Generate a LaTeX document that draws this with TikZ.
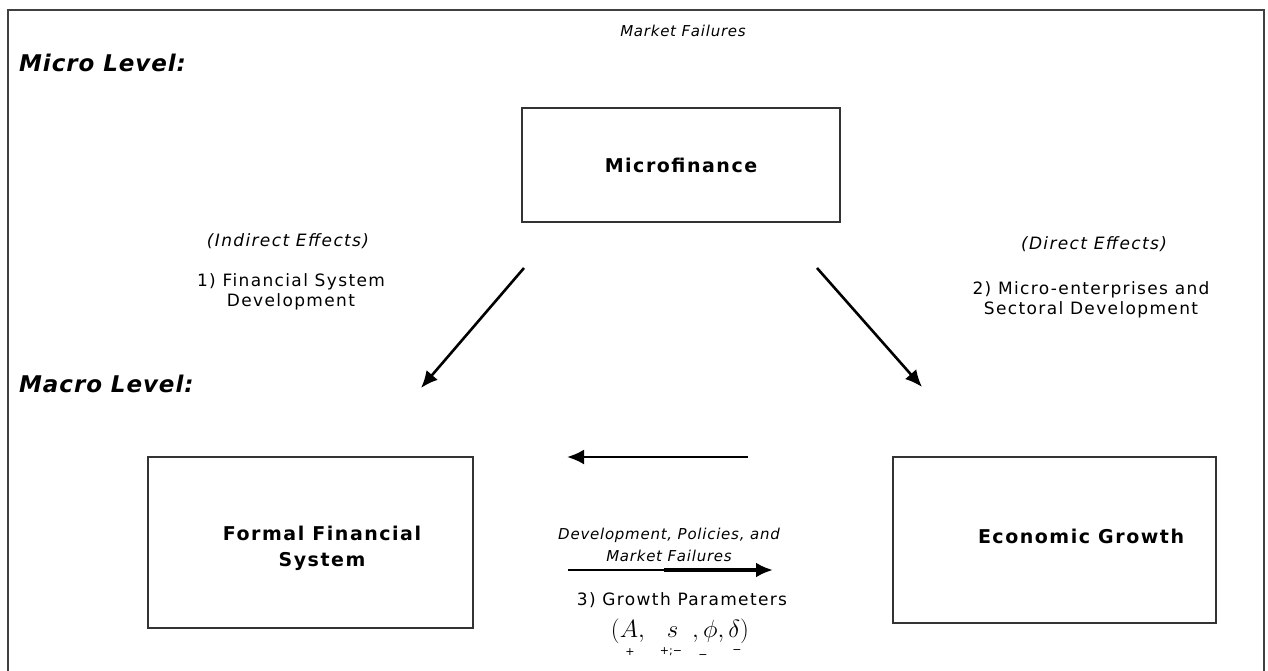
\documentclass[tikz,border=0pt]{standalone}
\usepackage{fontspec}
\setmainfont{DejaVu Sans}
\usetikzlibrary{arrows.meta}
\begin{document}
\begin{tikzpicture}[x=1pt,y=-1pt,
  frame/.style={draw=black!80,line width=1.8pt},
  txt/.style={font=\fontsize{17}{20.5}\selectfont\addfontfeature{LetterSpace=8},align=center,inner sep=0pt},
  itxt/.style={font=\fontsize{17}{21}\selectfont\itshape\addfontfeature{LetterSpace=8},align=center,inner sep=0pt},
  mtxt/.style={font=\fontsize{15}{22}\selectfont\itshape\addfontfeature{LetterSpace=5},align=center,inner sep=0pt},
  lvl/.style={font=\fontsize{23}{26}\selectfont\bfseries\itshape\addfontfeature{LetterSpace=4},anchor=west,inner sep=0pt},
  title/.style={font=\fontsize{19}{26}\selectfont\bfseries\addfontfeature{LetterSpace=8},align=center,inner sep=0pt},
  sign/.style={inner sep=0pt,font=\fontsize{11}{11}\selectfont},
  arr/.style={line width=2.6pt,-{Latex[length=17pt,width=15pt]}}]
\useasboundingbox (0,0) rectangle (1268,671);
% outer frame, open at the bottom
\draw[black!75,line width=2.4pt] (8,671) -- (8,10) -- (1264,10) -- (1264,671);

% level labels
\node[lvl] (micro) at (19,63) {Micro Level:};
\node[lvl] (macro) at (19,384) {Macro Level:};
\node[mtxt] (mf) at (683,31) {Market Failures};

% boxes
\draw[frame] (522,108) rectangle (840,222);
\node[title] (micfin) at (681,165) {Microfinance};
\draw[frame] (148,457) rectangle (473,628);
\node[title] (ffs) at (322,548) {Formal Financial\\System};
\draw[frame] (893,457) rectangle (1216,623);
\node[title] (eg) at (1081,536) {Economic Growth};

% effect labels
\node[itxt] (ind) at (288,241) {(Indirect Effects)};
\node[txt] (fsd) at (291,292) {1) Financial System\\Development};
\node[itxt] (dir) at (1094,244) {(Direct Effects)};
\node[txt] (msd) at (1091,300) {2) Micro-enterprises and\\Sectoral Development};

% arrows between levels
\coordinate (a1s) at (524,268); \coordinate (a1e) at (421,388);
\coordinate (a2s) at (817,268); \coordinate (a2e) at (922,387);
\draw[arr] (a1s) -- (a1e);
\draw[arr] (a2s) -- (a2e);

% feedback arrows at macro level
\coordinate (b1s) at (748,457); \coordinate (b1e) at (567,457);
\coordinate (b2s) at (568,570); \coordinate (b2m) at (664,570); \coordinate (b2e) at (773,570);
\draw[arr] (b1s) -- (b1e);
\draw[line width=2.6pt] (b2s) -- (b2m);
\draw[arr,line width=3.6pt] (b2m) -- (b2e);

\node[mtxt] (dpm) at (669,545) {Development, Policies, and\\Market Failures};
\node[txt] (gp) at (682,600) {3) Growth Parameters};
\node[inner sep=0pt] (par) at (680,631) {\fontsize{26}{28}\selectfont$(A,\;\;\, s\;\;,\phi,\delta)$};
\node[sign] (s1) at (630,652) {+};
\node[sign] (s2) at (671,652) {+;−};
\node[sign] (s3) at (703,657) {−};
\node[sign] (s4) at (737,652) {−};
\end{tikzpicture}
\end{document}
